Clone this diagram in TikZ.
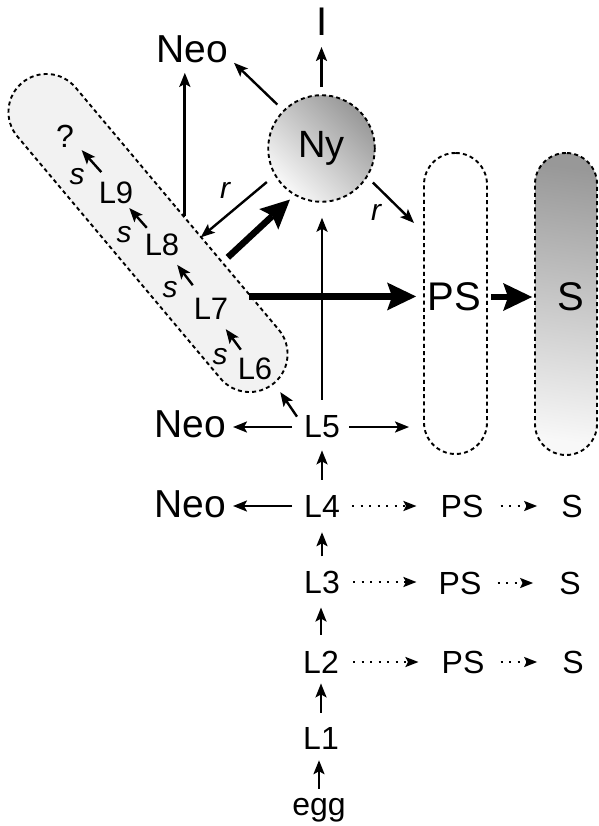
\documentclass[tikz,border=0pt]{standalone}
\usepackage{fontspec}
\setmainfont{Liberation Sans}
\usetikzlibrary{arrows.meta,shapes.misc,calc}
\newcommand\fsz[1]{\fontsize{#1pt}{#1pt}\selectfont}
\definecolor{capfill}{HTML}{F2F2F2}
\definecolor{shdark}{HTML}{989898}
\definecolor{shlight}{HTML}{F8F8F8}

\begin{document}
\begin{tikzpicture}[x=1pt,y=1pt,
  lab/.style={inner sep=0pt, font=\fsz{32}},
  inlab/.style={inner sep=0pt, font=\fsz{31}},
  neo/.style={inner sep=0pt, font=\fsz{39}},
  big/.style={inner sep=0pt, font=\fsz{40}},
  slab/.style={inner sep=0pt, font=\fsz{30}\itshape},
  border/.style={line width=1.9pt, dash pattern=on 4pt off 3.2pt},
  arr/.style={line width=2.4pt, -{Stealth[length=14pt,width=11pt,inset=3pt]}},
  dotarr/.style={line width=2pt, dash pattern=on 2pt off 6.5pt,
    -{Stealth[length=13pt,width=10pt,inset=2.5pt]}},
  fatarr/.style={line width=6.5pt,
    -{Stealth[length=29pt,width=28pt,inset=5pt,line width=0pt]}}
]
\path[use as bounding box] (0,0) rectangle (598,-826);

% the tilted group of later larval stages
\node[border, draw, rounded rectangle, fill=capfill, inner sep=0pt,
      minimum width=392pt, minimum height=76pt, rotate=-50] (Cap) at (148,-233) {};

% pre-adult and adult columns
\node[border, draw, rounded corners=31.5pt, inner sep=0pt,
      minimum width=63pt, minimum height=301pt] (PSbox) at (455.5,-303.5) {};
\node[border, draw, rounded corners=31pt, inner sep=0pt,
      top color=shdark, bottom color=shlight, shading angle=-8,
      minimum width=62pt, minimum height=302pt] (Sbox) at (566,-304) {};

% nymph
\node[border, draw, circle, inner sep=0pt, minimum size=106.6pt,
      top color=shdark, bottom color=shlight, shading angle=-45,
      font=\fsz{38}] (Ny) at (321.5,-148.5) {Ny};

% main developmental column
\node[lab] (egg) at (319,-810) {egg};
\node[lab] (L1) at (321,-738) {L1};
\node[lab] (L2) at (321,-662) {L2};
\node[lab] (L3) at (322,-582) {L3};
\node[lab] (L4) at (322,-506) {L4};
\node[lab] (L5) at (322,-427) {L5};

% side outcomes of the early stages
\node[lab] (PS2) at (463,-662) {PS};
\node[lab] (S2)  at (573,-662) {S};
\node[lab] (PS3) at (460,-583) {PS};
\node[lab] (S3)  at (570,-583) {S};
\node[lab] (PS4) at (462,-506) {PS};
\node[lab] (S4)  at (572,-506) {S};
\node[neo] (Neo4) at (190,-504) {Neo};
\node[neo] (Neo5) at (190,-424) {Neo};

% top outcomes
\node[neo] (NeoT) at (192,-49) {Neo};
\node[big] (I) at (322,-22) {I};
\node[big] (PSbig) at (454,-297) {PS};
\node[big] (Sbig) at (571,-297) {S};

% stages inside the tilted group
\node[inlab] (L6) at (255,-369) {L6};
\node[inlab] (L7) at (211,-309) {L7};
\node[inlab] (L8) at (162,-245) {L8};
\node[inlab] (L9) at (116,-193) {L9};
\node[inlab, font=\fsz{32}] (Q) at (65,-136) {?};
\node[slab] (s1) at (220,-357) {s};
\node[slab] (s2) at (170,-290) {s};
\node[slab] (s3) at (124,-235) {s};
\node[slab] (s4) at (77,-177) {s};
\node[slab] (rL) at (225,-190) {r};
\node[slab] (rR) at (376,-212) {r};

% points on the border of the tilted group
\coordinate (capA) at ([shift={(7pt,-8pt)}]Cap.north);
\coordinate (capB) at ([shift={(22.9pt,-29.4pt)}]Cap.north);
\coordinate (capC) at ([shift={(50pt,-49.4pt)}]Cap.north);
\coordinate (capD) at ([shift={(71pt,-88.5pt)}]Cap.north);
\coordinate (psR) at ([shift={(-9pt,80.5pt)}]PSbox.west);

% column arrows
\draw[arr, shorten <=9pt, shorten >=11pt] (egg.north) -- (egg.north |- L1.south);
\draw[arr, shorten <=14pt, shorten >=10pt] (L1.north) -- (L2.south);
\draw[arr, shorten <=16pt, shorten >=14pt] (L2.north) -- (L2.north |- L3.south);
\draw[arr, shorten <=14pt, shorten >=15pt] (L3.north) -- (L4.south);
\draw[arr, shorten <=15pt, shorten >=12pt] (L4.north) -- (L5.south);
\draw[arr, shorten <=16pt, shorten >=15pt] (L5.north) -- (L5.north |- Ny.south);

% dotted side routes
\draw[dotarr, shorten <=14pt, shorten >=23pt] (L2.east) -- (L2.east -| PS2.west);
\draw[dotarr, shorten <=16pt, shorten >=25pt] (PS2.east) -- (PS2.east -| S2.west);
\draw[dotarr, shorten <=13pt, shorten >=22pt] (L3.east) -- (L3.east -| PS3.west);
\draw[dotarr, shorten <=16pt, shorten >=26pt] (PS3.east) -- (PS3.east -| S3.west);
\draw[dotarr, shorten <=12pt, shorten >=24pt] (L4.east) -- (L4.east -| PS4.west);
\draw[dotarr, shorten <=17pt, shorten >=24pt] (PS4.east) -- (PS4.east -| S4.west);

% arrows out of L4 and L5
\draw[arr, shorten <=12pt, shorten >=7pt] (L4.west) -- (L4.west -| Neo4.east);
\draw[arr, shorten <=12pt, shorten >=7pt] (L5.west) -- (L5.west -| Neo5.east);
\draw[arr, shorten <=9pt, shorten >=14pt] (L5.east) -- (L5.east -| PSbox.west);
\draw[arr, shorten >=10pt] ([shift={(-7pt,-1pt)}]L5.north west) -- (Cap.east);

% moults inside the tilted group
\draw[arr, shorten <=24pt, shorten >=25pt] (L6.center) -- (L7.center);
\draw[arr, shorten <=30pt, shorten >=25pt] (L7.center) -- (L8.center);
\draw[arr, shorten <=23pt, shorten >=20pt] (L8.center) -- (L9.center);
\draw[arr, shorten <=28pt, shorten >=19pt] ([xshift=4pt]L9.center) -- ([xshift=4pt]Q.center);

% arrows around the nymph
\draw[arr, shorten <=7pt, shorten >=11pt] (Ny.north) -- (Ny.north |- I.south);
\draw[arr, shorten <=8pt] (Ny.135) -- ([xshift=6pt]NeoT.south east);
\draw[arr, line width=3pt, shorten >=10pt] (capA) -- (capA |- NeoT.south);
\draw[arr, shorten <=10pt] (Ny.210) -- (capB);
\draw[arr, shorten <=7.5pt] (Ny.-32) -- (psR);

% heavy routes
\draw[fatarr, shorten >=6pt] (capC) -- (Ny.240);
\draw[fatarr, shorten >=7pt] (capD) -- (capD -| PSbox.west);
\draw[fatarr, shorten <=3pt, shorten >=2pt] (PSbox.east |- PSbig) -- (Sbox.west |- PSbig);
\end{tikzpicture}
\end{document}
